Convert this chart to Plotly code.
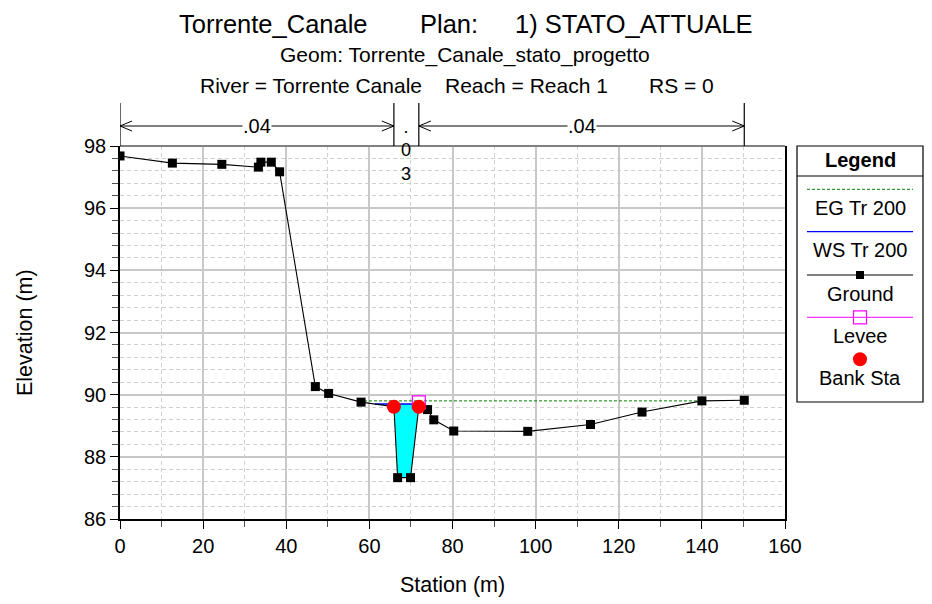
import plotly.graph_objects as go

# ---------------- data ----------------
station = [0, 12.6, 24.5, 33.3, 33.9, 36.4, 38.4, 47.0, 50.2, 58.0, 65.9, 66.8,
           69.9, 71.9, 74.0, 75.5, 80.3, 98.1, 113.2, 125.6, 140.0, 150.2]
elevation = [97.68, 97.45, 97.41, 97.32, 97.48, 97.48, 97.17, 90.26, 90.04, 89.76,
             89.61, 87.33, 87.33, 89.61, 89.52, 89.19, 88.83, 88.82, 89.04, 89.44,
             89.80, 89.82]
bank_sta_x = [65.9, 71.9]
bank_sta_y = [89.61, 89.61]
levee_x = [71.9]
levee_y = [89.75]
ws_elev = 89.70
ws_x = [61.3, 71.9]
eg_elev = 89.80
eg_x = [57.5, 140.0]
# ground points of the wetted channel below the water surface
fill_x = [61.3, 65.9, 66.8, 69.9, 71.9]
fill_y = [89.70, 89.61, 87.33, 87.33, 89.61]
n_bounds = [0, 65.9, 71.9, 150.2]
n_values = [".04", ".03", ".04"]
title_parts = ["Torrente_Canale", "Plan:", "1) STATO_ATTUALE"]
subtitle = "Geom: Torrente_Canale_stato_progetto"
info_parts = ["River = Torrente Canale", "Reach = Reach 1", "RS = 0"]
legend_labels = ["EG Tr 200", "WS Tr 200", "Ground", "Levee", "Bank Sta"]

FONT = "Liberation Sans, Arial, sans-serif"

# plot area in screen pixels (page has an 8px body margin)
PX0, PX1, PY0, PY1 = 120, 785, 146, 519


def xp(px):
    return (px - PX0) / (PX1 - PX0)


def yp(py):
    return (PY1 - py) / (PY1 - PY0)


fig = go.Figure()

# water fill
fig.add_trace(go.Scatter(
    x=ws_x + list(reversed(fill_x)),
    y=[ws_elev, ws_elev] + list(reversed(fill_y)),
    fill="toself", fillcolor="#00ffff", mode="lines", line=dict(width=0),
    hoverinfo="skip", showlegend=False))
# EG
fig.add_trace(go.Scatter(x=eg_x, y=[eg_elev, eg_elev], mode="lines",
                         line=dict(color="#008000", width=1, dash="3px,2px"),
                         showlegend=False))
# WS
fig.add_trace(go.Scatter(x=ws_x, y=[ws_elev, ws_elev], mode="lines",
                         line=dict(color="#0000ff", width=1.5), showlegend=False))
# Ground
fig.add_trace(go.Scatter(x=station, y=elevation, mode="lines+markers",
                         line=dict(color="black", width=1.1),
                         marker=dict(symbol="square", size=9, color="black"),
                         showlegend=False))
# Levee
fig.add_trace(go.Scatter(x=levee_x, y=levee_y, mode="markers",
                         marker=dict(symbol="square-open", size=13, color="#ff00ff",
                                     line=dict(width=1.2, color="#ff00ff")),
                         showlegend=False))
# Bank stations
fig.add_trace(go.Scatter(x=bank_sta_x, y=bank_sta_y, mode="markers",
                         marker=dict(symbol="circle", size=14, color="#ff0000"),
                         showlegend=False))

shapes = []
annotations = []


def text(x, y, s, size, xanchor="center", xref="paper", bg=None, angle=0):
    d = dict(x=x, y=y, xref=xref, yref="paper", text=s, showarrow=False,
             font=dict(family=FONT, size=size, color="black"),
             xanchor=xanchor, yanchor="middle", textangle=angle)
    if bg:
        d.update(bgcolor=bg, borderpad=0)
    annotations.append(d)


# top frame line (gray)
shapes.append(dict(type="line", xref="paper", yref="paper", x0=0, x1=1, y0=1, y1=1,
                   line=dict(color="#808080", width=2)))

# Manning's n annotation
y_arrow = yp(126)
for b in n_bounds:
    shapes.append(dict(type="line", xref="x", yref="paper", x0=b, x1=b,
                       y0=1, y1=yp(103), line=dict(color="black", width=1.2)))
for i in (0, 2):
    a, b = n_bounds[i], n_bounds[i + 1]
    shapes.append(dict(type="line", xref="x", yref="paper", x0=a, x1=b,
                       y0=y_arrow, y1=y_arrow, line=dict(color="black", width=1)))
    for end, d in ((a, 1), (b, -1)):
        for dy in (yp(121) - y_arrow, yp(131) - y_arrow):
            shapes.append(dict(type="line", xref="x", yref="paper",
                               x0=end, x1=end + d * 2.9, y0=y_arrow, y1=y_arrow + dy,
                               line=dict(color="black", width=1)))
    text((a + b) / 2, y_arrow, n_values[i], 20, xref="x", bg="white")
mid = (n_bounds[1] + n_bounds[2]) / 2
text(mid, yp(150), "<br>".join(list(n_values[1])), 18, xref="x")

# Titles
for s, px in zip(title_parts, (177, 418, 513)):
    text(xp(px), yp(24), s, 25.5, xanchor="left")
text(xp(465), yp(55), subtitle, 21)
for s, px in zip(info_parts, (198, 443, 647)):
    text(xp(px), yp(86), s, 21, xanchor="left")

# axis titles
text(xp(25), yp(333), "Elevation (m)", 21.5, angle=-90)
text(xp(452), yp(585), "Station (m)", 21.5)

# Legend box
lx0, lx1 = xp(797), xp(923)
shapes.append(dict(type="rect", xref="paper", yref="paper", x0=lx0, x1=lx1,
                   y0=yp(402), y1=yp(146), line=dict(color="black", width=1.2),
                   fillcolor="white"))
shapes.append(dict(type="line", xref="paper", yref="paper", x0=lx0, x1=lx1,
                   y0=yp(176), y1=yp(176), line=dict(color="black", width=1.2)))
lc = xp(860)
text(lc, yp(160), "<b>Legend</b>", 20)
sx0, sx1 = xp(807), xp(913)
legend_styles = [
    (189.3, 208, dict(color="#008000", width=1, dash="3px,2px"), None),
    (231.7, 250, dict(color="#0000ff", width=1.2), None),
    (275, 294, dict(color="black", width=1.2), "sq"),
    (317.3, 336, dict(color="#ff00ff", width=1), "osq"),
    (359.3, 378, None, "circ"),
]
for label, (ly, ty, line, mk) in zip(legend_labels, legend_styles):
    if line is not None:
        shapes.append(dict(type="line", xref="paper", yref="paper", x0=sx0, x1=sx1,
                           y0=yp(ly), y1=yp(ly), line=line))
    common = dict(xref="paper", yref="paper", xsizemode="pixel", ysizemode="pixel",
                  xanchor=lc, yanchor=yp(ly))
    if mk == "sq":
        shapes.append(dict(type="rect", x0=-4, x1=4, y0=-4, y1=4, fillcolor="black",
                           line=dict(width=0), **common))
    elif mk == "osq":
        shapes.append(dict(type="rect", x0=-6.5, x1=6.5, y0=-6.5, y1=6.5,
                           fillcolor="rgba(0,0,0,0)",
                           line=dict(width=1.2, color="#ff00ff"), **common))
    elif mk == "circ":
        shapes.append(dict(type="circle", x0=-7, x1=7, y0=-7, y1=7, fillcolor="#ff0000",
                           line=dict(width=0), **common))
    text(lc, yp(ty), label, 20)

fig.update_layout(
    width=924, height=596,
    margin=dict(l=PX0 - 8, r=932 - PX1, t=PY0 - 8, b=604 - PY1),
    paper_bgcolor="white", plot_bgcolor="white",
    font=dict(family=FONT, size=20, color="black"),
    shapes=shapes, annotations=annotations, showlegend=False,
    xaxis=dict(range=[0, 160], dtick=20, tick0=0, showgrid=True, gridcolor="#c8c8c8",
               gridwidth=1.5, zeroline=False, showline=True, linecolor="black",
               linewidth=1.5, ticks="outside", ticklen=8, tickcolor="black",
               tickfont=dict(size=20),
               minor=dict(dtick=10, showgrid=True, griddash="4px,3px", gridcolor="#d0d0d0",
                          gridwidth=1, ticks="outside", ticklen=6, tickcolor="#505050")),
    yaxis=dict(range=[86, 98], dtick=2, tick0=86, showgrid=True, gridcolor="#c8c8c8",
               gridwidth=1.5, zeroline=False, showline=True, mirror=True,
               linecolor="black", linewidth=1.5, ticks="outside", ticklen=8,
               tickcolor="black", tickfont=dict(size=20),
               minor=dict(dtick=0.4, showgrid=True, griddash="4px,3px", gridcolor="#d0d0d0",
                          gridwidth=1, ticks="outside", ticklen=6, tickcolor="#505050")),
)

fig.write_html("out.html")
